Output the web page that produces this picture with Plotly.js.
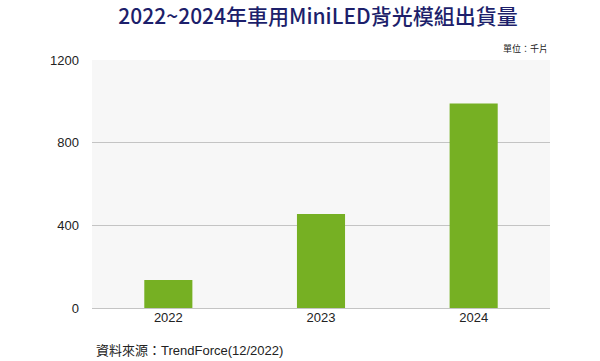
<!DOCTYPE html>
<html>
<head>
<meta charset="utf-8">
<script src="https://cdn.plot.ly/plotly-3.0.1.min.js"></script>
<style>html,body{margin:0;padding:0;background:#fff;}</style>
</head>
<body>
<div id="chart" style="width:600px;height:361px;"></div>
<script>
const years = ['2022', '2023', '2024'];
const shipments = [135, 455, 990];
const yTicks = [0, 400, 800, 1200];
const titleText = '2022~2024年車用MiniLED背光模組出貨量';
const unitText = '單位：千片';
const sourceText = '資料來源：TrendForce(12/2022)';

const trace = {
  type: 'bar',
  x: years,
  y: shipments,
  marker: {color: '#76b023'},
  hoverinfo: 'x+y'
};

const layout = {
  width: 600, height: 361,
  margin: {l: 92, r: 50, t: 60, b: 53},
  paper_bgcolor: '#ffffff',
  plot_bgcolor: '#f7f7f7',
  bargap: 0.685,
  showlegend: false,
  title: {
    text: titleText,
    x: 0.53, xanchor: 'center',
    yref: 'container', y: 0.975, yanchor: 'top',
    font: {family: '"Noto Sans CJK TC", "Noto Sans", sans-serif', size: 21, color: '#1d1f6b', weight: 500}
  },
  xaxis: {
    type: 'category',
    showgrid: false,
    showline: false,
    ticks: '',
    tickfont: {family: 'Liberation Sans, Arial, sans-serif', size: 13, color: '#222'},
    fixedrange: true
  },
  yaxis: {
    range: [0, 1200],
    tickvals: yTicks,
    ticktext: yTicks.map(String),
    showgrid: true,
    gridcolor: '#c4c4c4',
    gridwidth: 1,
    zeroline: true,
    zerolinecolor: '#c4c4c4',
    zerolinewidth: 1,
    showline: false,
    ticks: '',
    ticklabelstandoff: 12,
    tickfont: {family: 'Liberation Sans, Arial, sans-serif', size: 13, color: '#222'},
    fixedrange: true
  },
  annotations: [
    {
      text: unitText, xref: 'paper', yref: 'paper', x: 1, y: 1, xanchor: 'right', yanchor: 'bottom',
      yshift: 3, showarrow: false,
      font: {family: '"Noto Sans CJK TC", sans-serif', size: 9, color: '#222'}
    },
    {
      text: sourceText, xref: 'paper', yref: 'paper', x: 0, y: 0, xanchor: 'left', yanchor: 'top',
      xshift: 2, yshift: -33, showarrow: false,
      font: {family: '"Liberation Sans", "Noto Sans CJK TC", sans-serif', size: 13, color: '#222'}
    }
  ]
};

Plotly.newPlot('chart', [trace], layout, {displayModeBar: false, staticPlot: true});
</script>
</body>
</html>
